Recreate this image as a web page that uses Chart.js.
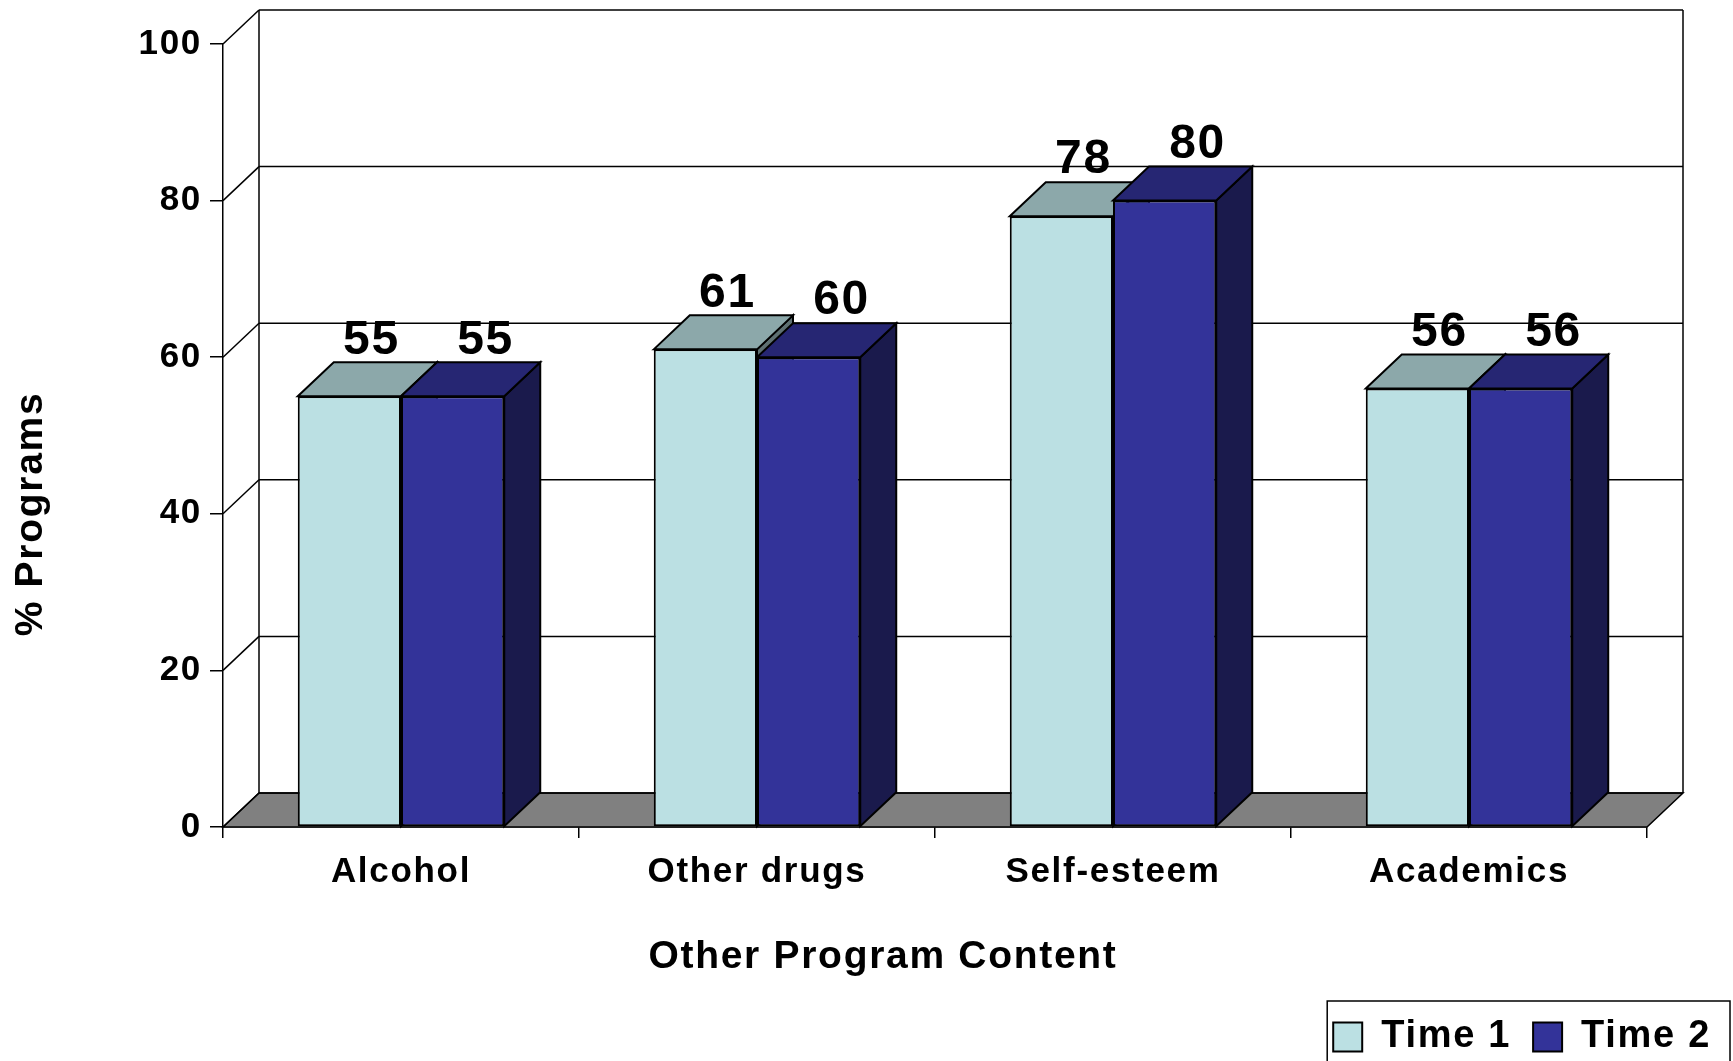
<!DOCTYPE html>
<html>
<head>
<meta charset="utf-8">
<script src="https://cdn.jsdelivr.net/npm/chart.js@4.4.1/dist/chart.umd.min.js"></script>
<style>
  html, body { margin: 0; padding: 0; background: #fff; }
  #wrap { width: 1733px; height: 1061px; }
</style>
</head>
<body>
<div id="wrap"><canvas id="chart" width="1733" height="1061"></canvas></div>
<script>
// ── Data ──────────────────────────────────────────────────────────────────────
const categories = ["Alcohol", "Other drugs", "Self-esteem", "Academics"];
const time1 = [55, 61, 78, 56];
const time2 = [55, 60, 80, 56];
const yTicks = [0, 20, 40, 60, 80, 100];
const xTitle = "Other Program Content";
const yTitle = "% Programs";

// ── Look ──────────────────────────────────────────────────────────────────────
const FONT = "'Liberation Sans', Arial, sans-serif";
const SPACING = "1.7px";            // the original text is slightly tracked out
const DX = 36, DY = 34;            // depth of the fake 3D
const FACES = [
  { front: "#BBE0E3", top: "#8CA8AA", side: "#5E7072", labelShift: 4 },    // Time 1
  { front: "#333399", top: "#262673", side: "#1A1A4C", labelShift: 15 },   // Time 2
];

function poly(ctx, pts, fill) {
  ctx.beginPath();
  ctx.moveTo(pts[0][0], pts[0][1]);
  for (let i = 1; i < pts.length; i++) ctx.lineTo(pts[i][0], pts[i][1]);
  ctx.closePath();
  if (fill) { ctx.fillStyle = fill; ctx.fill(); }
  ctx.stroke();
}

function line(ctx, x1, y1, x2, y2) {
  ctx.beginPath(); ctx.moveTo(x1, y1); ctx.lineTo(x2, y2); ctx.stroke();
}

// walls, floor, and the top/side faces of the bars
const box3d = {
  id: "box3d",
  beforeUpdate(chart) { chart.ctx.letterSpacing = SPACING; },
  beforeDraw(chart) { chart.ctx.letterSpacing = SPACING; },
  beforeDatasetsDraw(chart) {
    const { ctx, chartArea: a, scales: { y } } = chart;
    const y0 = y.getPixelForValue(0);
    const yTop = y.getPixelForValue(100);
    ctx.save();
    ctx.strokeStyle = "#000";
    ctx.lineWidth = 1.5;
    // floor
    poly(ctx, [[a.left, y0], [a.right, y0], [a.right + DX, y0 - DY], [a.left + DX, y0 - DY]], "#808080");
    // grid on side + back wall
    yTicks.forEach(v => {
      const py = y.getPixelForValue(v);
      line(ctx, a.left, py, a.left + DX, py - DY);
      line(ctx, a.left + DX, py - DY, a.right + DX, py - DY);
    });
    line(ctx, a.left + DX, yTop - DY, a.left + DX, y0 - DY);
    line(ctx, a.right + DX, yTop - DY, a.right + DX, y0 - DY);

    // top and side faces, Time 1 first so Time 2 sits in front
    ctx.lineWidth = 2;
    chart.data.datasets.forEach((ds, di) => {
      const meta = chart.getDatasetMeta(di);
      meta.data.forEach(bar => {
        const { x, y: top, base, width } = bar.getProps(["x", "y", "base", "width"], true);
        const l = x - width / 2, r = x + width / 2;
        poly(ctx, [[r, top], [r + DX, top - DY], [r + DX, base - DY], [r, base]], FACES[di].side);
        poly(ctx, [[l, top], [l + DX, top - DY], [r + DX, top - DY], [r, top]], FACES[di].top);
      });
    });
    ctx.restore();
  },
  afterDatasetsDraw(chart) {
    const { ctx } = chart;
    ctx.save();
    ctx.fillStyle = "#000";
    ctx.font = `bold 48px ${FONT}`;
    ctx.textAlign = "center";
    ctx.textBaseline = "bottom";
    chart.data.datasets.forEach((ds, di) => {
      chart.getDatasetMeta(di).data.forEach((bar, i) => {
        const { x, y: top } = bar.getProps(["x", "y"], true);
        ctx.fillText(String(ds.data[i]), x + DX / 2 + FACES[di].labelShift, top - DY + 2);
      });
    });
    ctx.restore();
  },
  afterDraw(chart) {
    const { ctx } = chart;
    ctx.save();
    // axis titles
    ctx.fillStyle = "#000";
    ctx.font = `bold 39px ${FONT}`;
    ctx.textAlign = "center";
    ctx.textBaseline = "middle";
    ctx.fillText(xTitle, 883, 957);
    ctx.translate(31, 514);
    ctx.rotate(-Math.PI / 2);
    ctx.fillText(yTitle, 0, 0);
    ctx.restore();
    // legend frame (runs off the bottom edge, as in the original)
    const lg = chart.legend;
    if (lg && lg.legendHitBoxes && lg.legendHitBoxes.length) {
      const hb = lg.legendHitBoxes;
      const last = hb[hb.length - 1];
      const l = hb[0].left - 6;
      const r = Math.min(last.left + last.width + 19, chart.width - 3);
      ctx.save();
      ctx.strokeStyle = "#000";
      ctx.lineWidth = 1.5;
      ctx.strokeRect(l, lg.top + 5, r - l, chart.height - lg.top + 30);
      ctx.restore();
    }
  },
};

const ctx = document.getElementById("chart").getContext("2d");
new Chart(ctx, {
  type: "bar",
  data: {
    labels: categories,
    datasets: [
      { label: "Time 1", data: time1, backgroundColor: FACES[0].front, borderColor: "#000",
        borderWidth: 2, borderSkipped: false },
      { label: "Time 2", data: time2, backgroundColor: FACES[1].front, borderColor: "#000",
        borderWidth: 2, borderSkipped: false },
    ],
  },
  options: {
    responsive: false,
    animation: false,
    events: [],
    categoryPercentage: 0.58,
    barPercentage: 1.0,
    layout: { padding: { top: 44, right: 0, left: 0, bottom: -5 } },
    plugins: {
      legend: {
        position: "bottom",
        align: "end",
        labels: {
          color: "#000",
          font: { family: FONT, size: 38, weight: "bold" },
          boxWidth: 29, boxHeight: 29, padding: 22,
        },
      },
      tooltip: { enabled: false },
    },
    scales: {
      x: {
        grid: { display: true, drawOnChartArea: false, color: "#000", lineWidth: 1.5, tickLength: 11, offset: true },
        border: { display: true, color: "#000", width: 1.5 },
        ticks: { color: "#000", padding: 13, font: { family: FONT, size: 35, weight: "bold" } },
        afterFit: s => { s.height = 169; },
      },
      y: {
        min: 0, max: 100,
        afterBuildTicks: s => { s.ticks = yTicks.map(v => ({ value: v })); },
        grid: { display: true, drawOnChartArea: false, color: "#000", lineWidth: 1.5, tickLength: 13 },
        border: { display: true, color: "#000", width: 1.5 },
        ticks: { color: "#000", padding: 8, font: { family: FONT, size: 35, weight: "bold" } },
        afterFit: s => { s.width = 223; },
      },
      // empty right-hand axis: only reserves room for the back wall's depth
      spacer: {
        type: "linear", position: "right", display: true,
        grid: { display: false }, border: { display: false }, ticks: { display: false },
        afterFit: s => { s.width = 86; },
      },
    },
  },
  plugins: [box3d],
});
</script>
</body>
</html>
